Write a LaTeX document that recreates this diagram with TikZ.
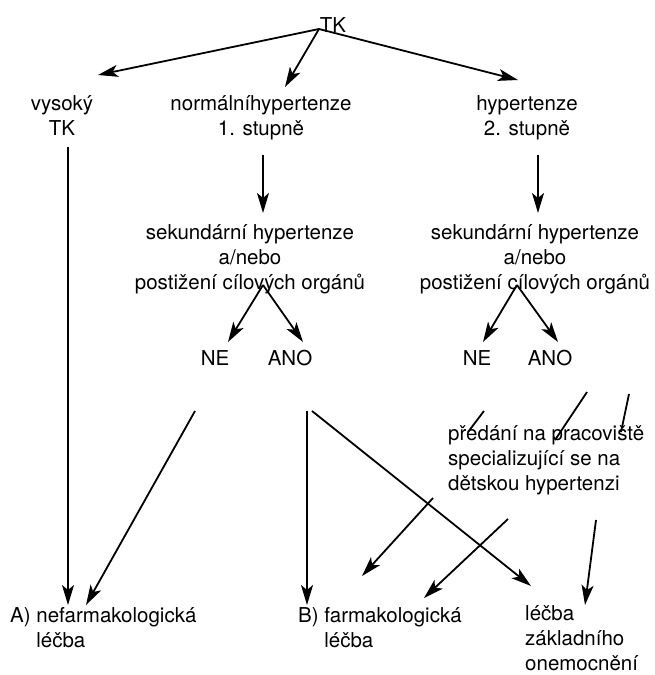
\documentclass[tikz,border=0pt]{standalone}
\usepackage{fontspec}
\setmainfont{TeX Gyre Heros}
\usetikzlibrary{arrows.meta}

\begin{document}
\begin{tikzpicture}[x=1pt,y=-1pt,>={Stealth[length=20pt,width=12pt,inset=5pt]},
  every node/.style={inner sep=0pt,font=\fontsize{20.5}{25}\selectfont,align=center,anchor=base},
  arr/.style={->,line width=1.8pt}, seg/.style={line width=1.8pt}]
\useasboundingbox (0,0) rectangle (655,675);

% base of a node with several lines = its last line
\node (tk) at (333,32) {TK};
\node (vysoky) at (62,135) {vysoký\\TK};
\node (normalni) at (261,135) {normálníhypertenze\\1. stupně};
\node (hyp2) at (527,135) {hypertenze\\2. stupně};
\node (sek1) at (250,289) {sekundární hypertenze\\a/nebo\\postižení cílových orgánů};
\node (sek2) at (535,289) {sekundární hypertenze\\a/nebo\\postižení cílových orgánů};
\node (ne1) at (215,365) {NE};
\node (ano1) at (290,365) {ANO};
\node (ne2) at (477,365) {NE};
\node (ano2) at (550,365) {ANO};
\node (predani)[anchor=base west,align=left] at (448,490) {předání na pracoviště\\specializující se na\\dětskou hypertenzi};
\node (nefarm)[anchor=base west,align=left] at (10,647) {A) nefarmakologická\\\phantom{A) }léčba};
\node (farm)[anchor=base west,align=left] at (298,647) {B) farmakologická\\\phantom{B) }léčba};
\node (zakl)[anchor=base west,align=left] at (525,670) {léčba\\základního\\onemocnění};

\coordinate (tk-a) at (319,29);
\coordinate (vys-in) at (98,75);
\coordinate (nor-in) at (285,87);
\coordinate (hyp-in) at (518,80);
\coordinate (vys-out) at (68,147);
\coordinate (nor-out) at (263,155);
\coordinate (hyp-out) at (538,155);
\coordinate (sek1-in) at (263,213);
\coordinate (sek2-in) at (538,213);
\coordinate (sek1-a) at (263,285);
\coordinate (sek2-a) at (517,285);
\coordinate (ne1-in) at (228,342);
\coordinate (ano1-in) at (303,342);
\coordinate (ne2-in) at (483,342);
\coordinate (ano2-in) at (558,342);
\coordinate (ne1-out) at (195,411);
\coordinate (ano1-out) at (307,411);
\coordinate (ano1-out2) at (312,411);
\coordinate (p1a) at (484,411);
\coordinate (p1b) at (468,432);
\coordinate (p2a) at (587,392);
\coordinate (p2b) at (555,440);
\coordinate (p3a) at (629,394);
\coordinate (p3b) at (621,432);
\coordinate (q1) at (433,498);
\coordinate (q2) at (508,519);
\coordinate (q3) at (596,520);
\coordinate (nef-in1) at (68,605);
\coordinate (nef-in2) at (86,605);
\coordinate (far-in1) at (307,605);
\coordinate (far-in2) at (362,576);
\coordinate (far-in3) at (424,598);
\coordinate (zak-in1) at (531,586);
\coordinate (zak-in2) at (585,605);

\draw[arr] (tk-a) to (vys-in);
\draw[arr] (tk-a) to (nor-in);
\draw[arr] (tk-a) to (hyp-in);
\draw[arr] (vys-out) to (nef-in1);
\draw[arr] (nor-out) to (sek1-in);
\draw[arr] (hyp-out) to (sek2-in);
\draw[arr] (sek1-a) to (ne1-in);
\draw[arr] (sek1-a) to (ano1-in);
\draw[arr] (sek2-a) to (ne2-in);
\draw[arr] (sek2-a) to (ano2-in);
\draw[arr] (ne1-out) to (nef-in2);
\draw[arr] (ano1-out) to (far-in1);
\draw[arr] (ano1-out2) to (zak-in1);
\draw[seg] (p1a) to (p1b);
\draw[seg] (p2a) to (p2b);
\draw[seg] (p3a) to (p3b);
\draw[arr] (q1) to (far-in2);
\draw[arr] (q2) to (far-in3);
\draw[arr] (q3) to (zak-in2);
\end{tikzpicture}
\end{document}
